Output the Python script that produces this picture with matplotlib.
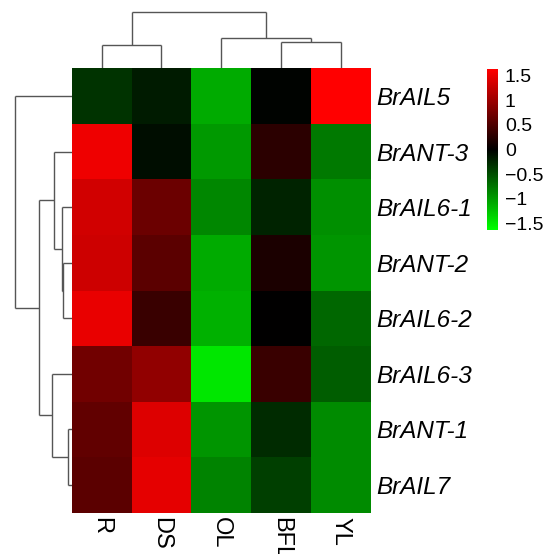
import numpy as np
import matplotlib
matplotlib.use("Agg")
import matplotlib.pyplot as plt
from matplotlib.colors import LinearSegmentedColormap

# --- data ---
genes = ["BrAIL5", "BrANT-3", "BrAIL6-1", "BrANT-2",
         "BrAIL6-2", "BrAIL6-3", "BrANT-1", "BrAIL7"]
tissues = ["R", "DS", "OL", "BFL", "YL"]

z_BrAIL5 = [-0.33, -0.17, -1.09, -0.02, 1.66]
z_BrANT3 = [1.53, -0.08, -0.98, 0.27, -0.77]
z_BrAIL6_1 = [1.34, 0.68, -0.87, -0.22, -0.92]
z_BrANT2 = [1.31, 0.58, -1.09, 0.17, -0.96]
z_BrAIL6_2 = [1.49, 0.36, -1.13, 0.0, -0.66]
z_BrAIL6_3 = [0.72, 0.93, -1.48, 0.36, -0.60]
z_BrANT1 = [0.62, 1.42, -0.95, -0.27, -0.89]
z_BrAIL7 = [0.58, 1.47, -0.84, -0.41, -0.89]

# dendrogram merges: (child a, child b, height); leaves are 0..n-1
row_merges = [(3, 4, 9), (2, 8, 10), (1, 9, 18), (6, 7, 4),
              (5, 11, 20), (10, 12, 33), (0, 13, 57)]
col_merges = [(0, 1, 23.3), (3, 4, 26), (2, 6, 30), (5, 7, 56.3)]

cbar_ticks = [-1.5, -1, -0.5, 0, 0.5, 1, 1.5]

vlim = 1.64
W, H = 545, 554


def px(x0, y0, x1, y1):
    # pixel box (top-left origin) -> figure fraction rect
    return [x0 / W, 1 - y1 / H, (x1 - x0) / W, (y1 - y0) / H]


def dendro_segments(merges, n):
    pos = {i: i + 0.5 for i in range(n)}
    hgt = {i: 0.0 for i in range(n)}
    segs = []
    for k, (a, b, h) in enumerate(merges):
        node = n + k
        segs.append(((pos[a], hgt[a]), (pos[a], h)))
        segs.append(((pos[b], hgt[b]), (pos[b], h)))
        segs.append(((pos[a], h), (pos[b], h)))
        pos[node] = (pos[a] + pos[b]) / 2
        hgt[node] = h
    return segs


data = np.array([z_BrAIL5, z_BrANT3, z_BrAIL6_1, z_BrANT2,
                 z_BrAIL6_2, z_BrAIL6_3, z_BrANT1, z_BrAIL7])

cmap = LinearSegmentedColormap.from_list("greenred", ["#00ff00", "#000000", "#ff0000"])

plt.rcParams["font.family"] = ["Liberation Sans", "DejaVu Sans"]
fig = plt.figure(figsize=(W / 100, H / 100), dpi=100)
fig.patch.set_facecolor("white")

# heatmap
hx0, hy0, hx1, hy1 = 71.7, 68.3, 370.8, 512.7
ax = fig.add_axes(px(hx0, hy0, hx1, hy1))
mesh = ax.pcolormesh(data, cmap=cmap, vmin=-vlim, vmax=vlim)
ax.set_xlim(0, len(tissues))
ax.set_ylim(len(genes), 0)
ax.set_xticks(np.arange(len(tissues)) + 0.5)
ax.set_xticklabels(tissues, rotation=270, fontsize=17)
ax.set_yticks(np.arange(len(genes)) + 0.5)
ax.set_yticklabels(genes, fontsize=17.5, style="italic")
ax.yaxis.tick_right()
ax.tick_params(axis="both", length=0)
ax.tick_params(axis="x", pad=3)
ax.tick_params(axis="y", pad=4)
for s in ax.spines.values():
    s.set_visible(False)

lc = "#555555"

# row dendrogram (left)
axl = fig.add_axes(px(0, hy0, hx0, hy1))
for (y0, d0), (y1, d1) in dendro_segments(row_merges, len(genes)):
    axl.plot([d0, d1], [y0, y1], color=lc, lw=1.0, solid_capstyle="butt")
axl.set_xlim(hx0, 0)
axl.set_ylim(len(genes), 0)
axl.axis("off")

# column dendrogram (top)
axt = fig.add_axes(px(hx0, 0, hx1, hy0))
for (x0, d0), (x1, d1) in dendro_segments(col_merges, len(tissues)):
    axt.plot([x0, x1], [d0, d1], color=lc, lw=1.0, solid_capstyle="butt")
axt.set_xlim(0, len(tissues))
axt.set_ylim(0, hy0)
axt.axis("off")

# colour key
cax = fig.add_axes(px(487.3, 69, 498, 230))
cb = fig.colorbar(mesh, cax=cax, ticks=cbar_ticks)
cb.outline.set_visible(False)
cb.ax.tick_params(length=0, pad=5, labelsize=14)
cb.ax.set_yticklabels(["\u22121.5", "\u22121", "\u22120.5", "0", "0.5", "1", "1.5"])

fig.savefig("out.png", dpi=100, facecolor="white")
